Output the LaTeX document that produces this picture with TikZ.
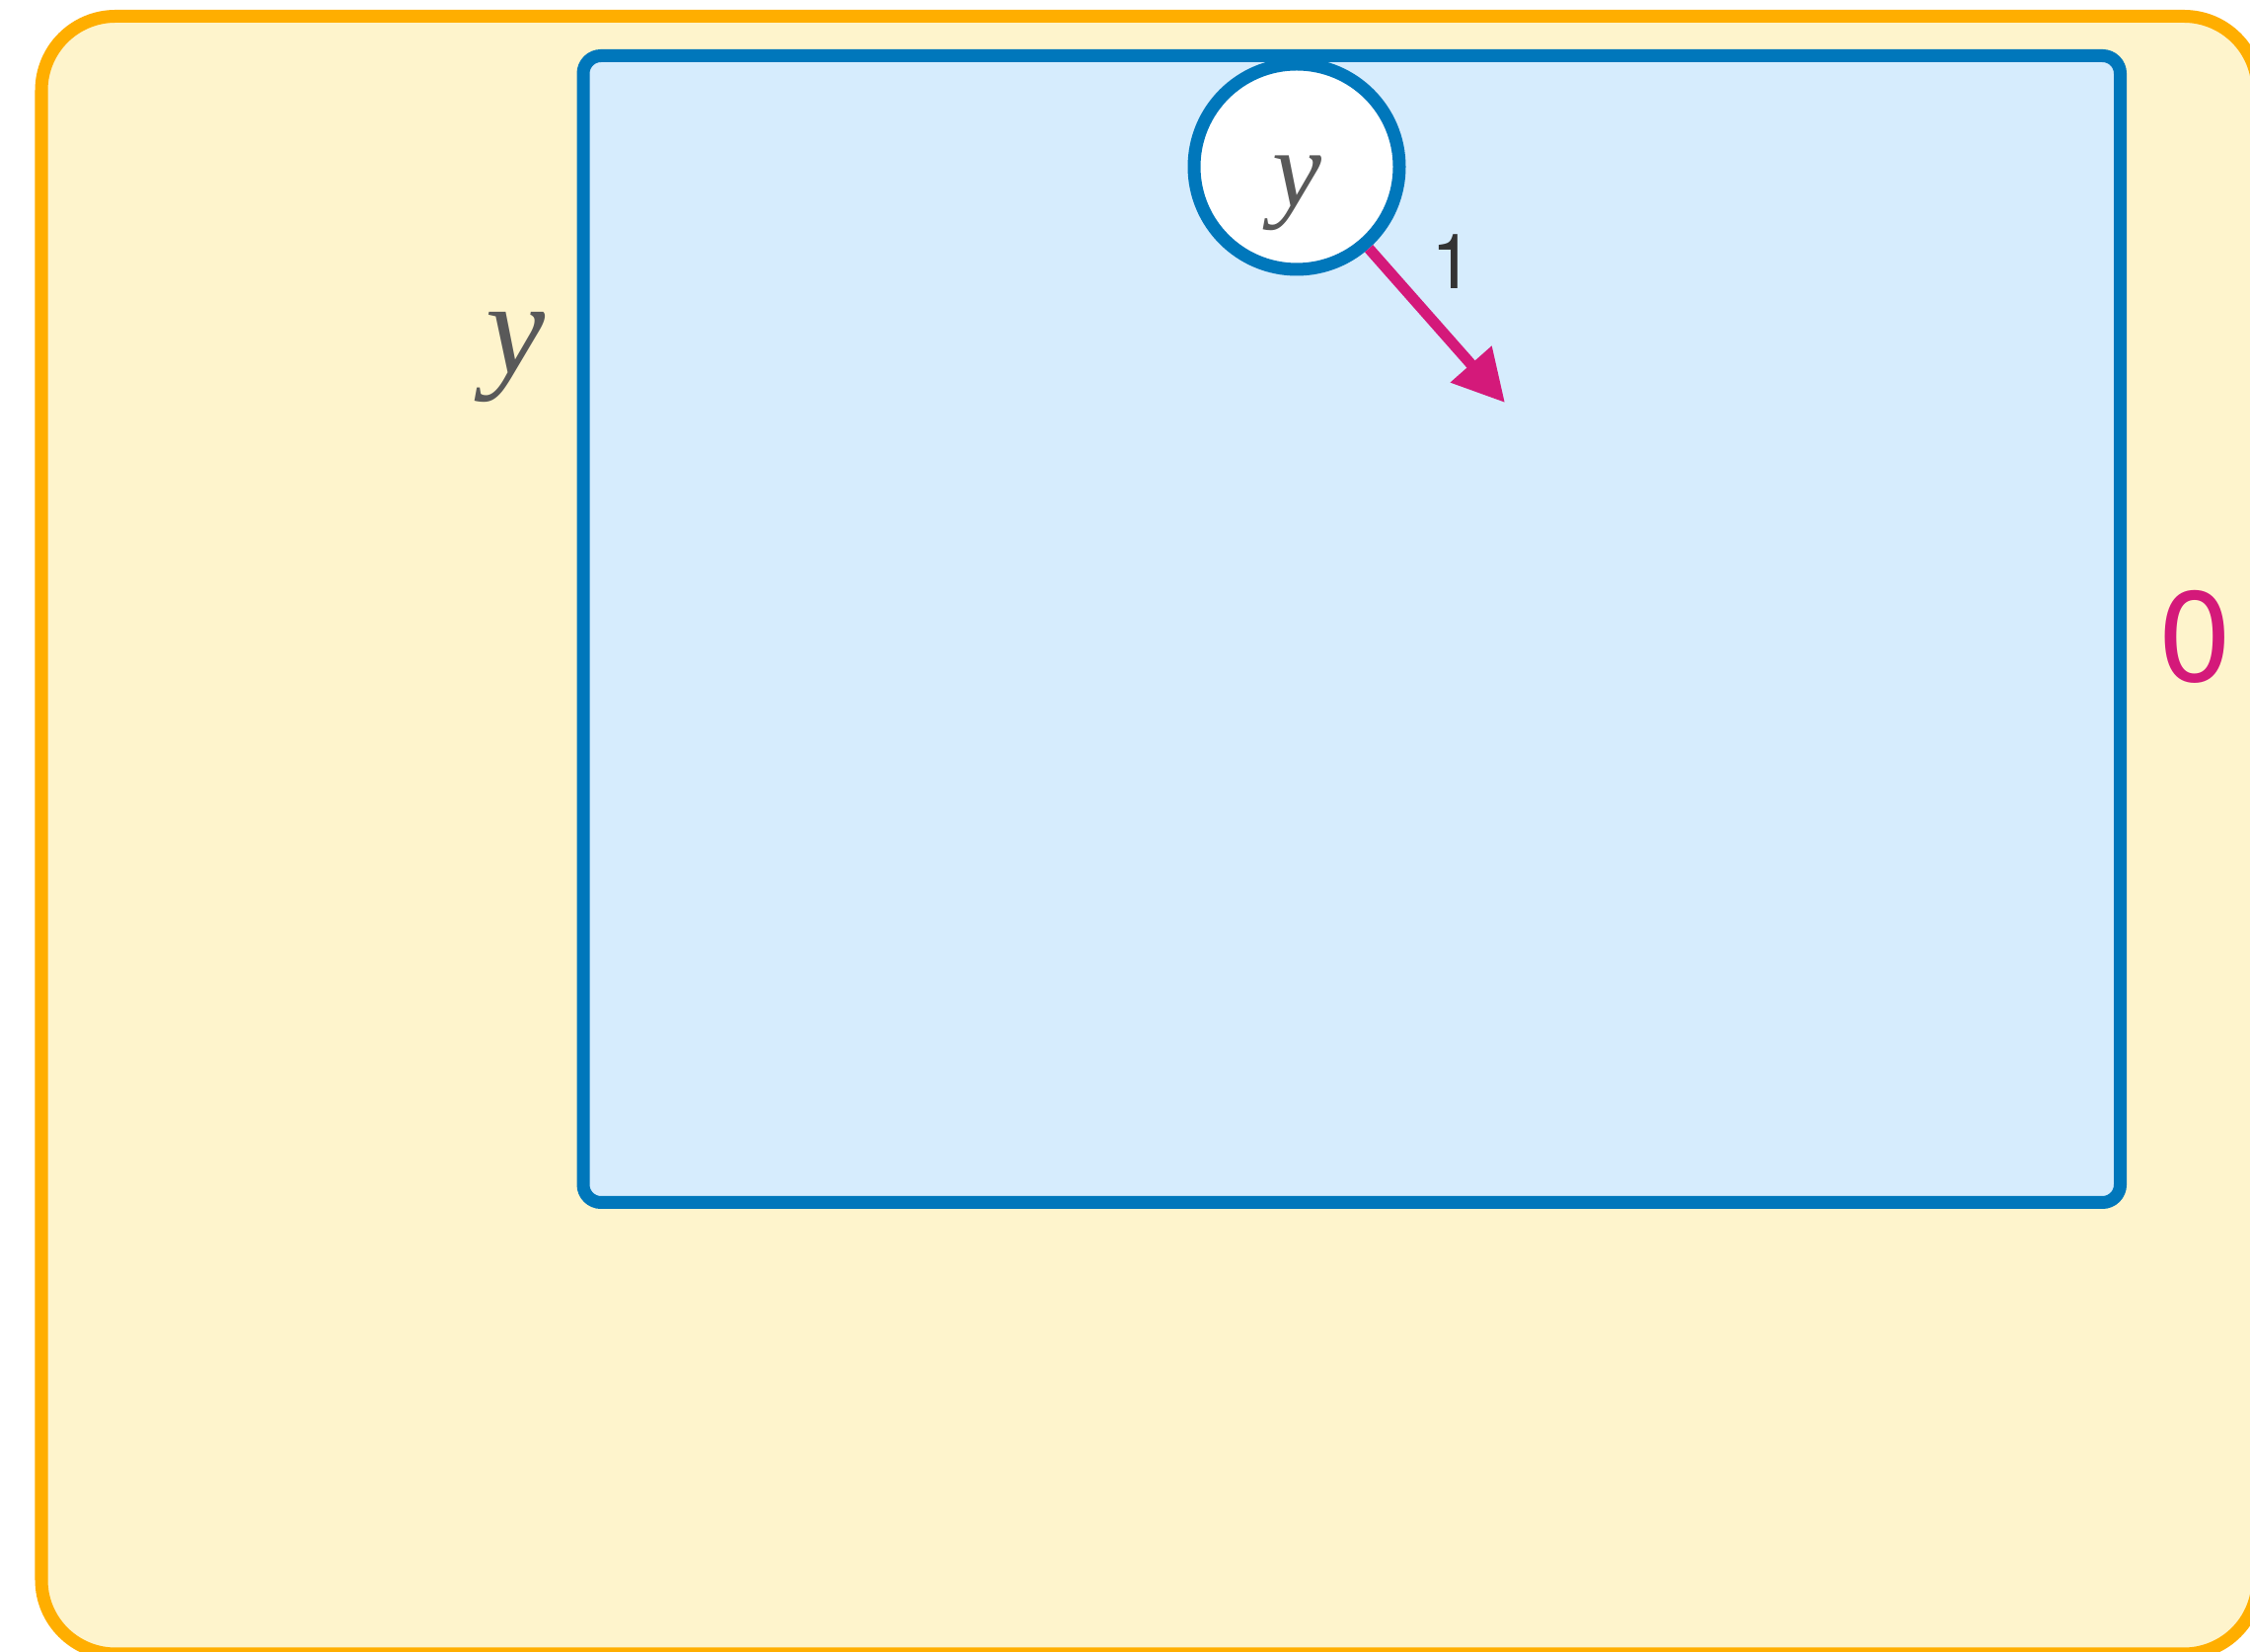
\RequirePackage{fix-cm}
\documentclass[tikz,border=0pt]{standalone}
\usepackage{fontspec}
\newfontfamily\numfont{TeX Gyre Heros}
\newfontfamily\varfont{Liberation Serif}
\usepackage{tikz}
\usetikzlibrary{positioning, arrows.meta}
\definecolor{boxorange}{HTML}{FFAE00}
\definecolor{boxcream}{HTML}{FEF4CC}
\definecolor{boxblue}{HTML}{0077BB}
\definecolor{boxsky}{HTML}{D6ECFD}
\definecolor{edgemagenta}{HTML}{D4197A}
\definecolor{vargray}{HTML}{595959}
\definecolor{numgray}{HTML}{333333}
\tikzset{
	outerbox/.style={draw=boxorange, fill=boxcream, line width=0.13cm, rounded corners=0.75cm}
}
\tikzset{
	innerbox/.style={draw=boxblue, fill=boxsky, line width=0.13cm, rounded corners=0.18cm}
}
\tikzset{
	varbubble/.style={circle, draw=boxblue, fill=white, line width=0.13cm, minimum size=2.08cm, inner sep=0pt}
}
\tikzset{
	vartext/.style={text=vargray, inner sep=0pt}
}
\begin{document}
\begin{tikzpicture}
      \useasboundingbox (0,0) rectangle (22.8,16.74);
      % outer frame and inner box
      \draw[outerbox] (0.42,-0.02) rectangle (22.88,16.575);
      \draw[innerbox] (5.91,4.555) rectangle (21.485,16.175);
      % variable labels
      \node[vartext, font=\varfont\itshape\fontsize{38.5}{46}\selectfont] (outery) at (5.23,13.12) {y};
      \node[varbubble] (ybubble) at (13.14,15.05) {};
      \node[vartext, font=\varfont\itshape\fontsize{32}{38}\selectfont] (innery) at ([yshift=-0.265cm]ybubble.center) {y};
      % edge out of the bubble
      \coordinate (ytip) at (15.25,12.66);
      \draw[edgemagenta, line width=0.11cm, -{Triangle[length=0.52cm, width=0.53cm]}] (ybubble) -- (ytip);
      \node[text=numgray, inner sep=0pt, font=\numfont\fontsize{22}{26}\selectfont] (wone) at (14.72,14.09) {1};
      \node[text=edgemagenta, inner sep=0pt, font=\numfont\fontsize{37}{44}\selectfont] (wzero) at (22.25,10.29) {0};
    \end{tikzpicture}
\end{document}
